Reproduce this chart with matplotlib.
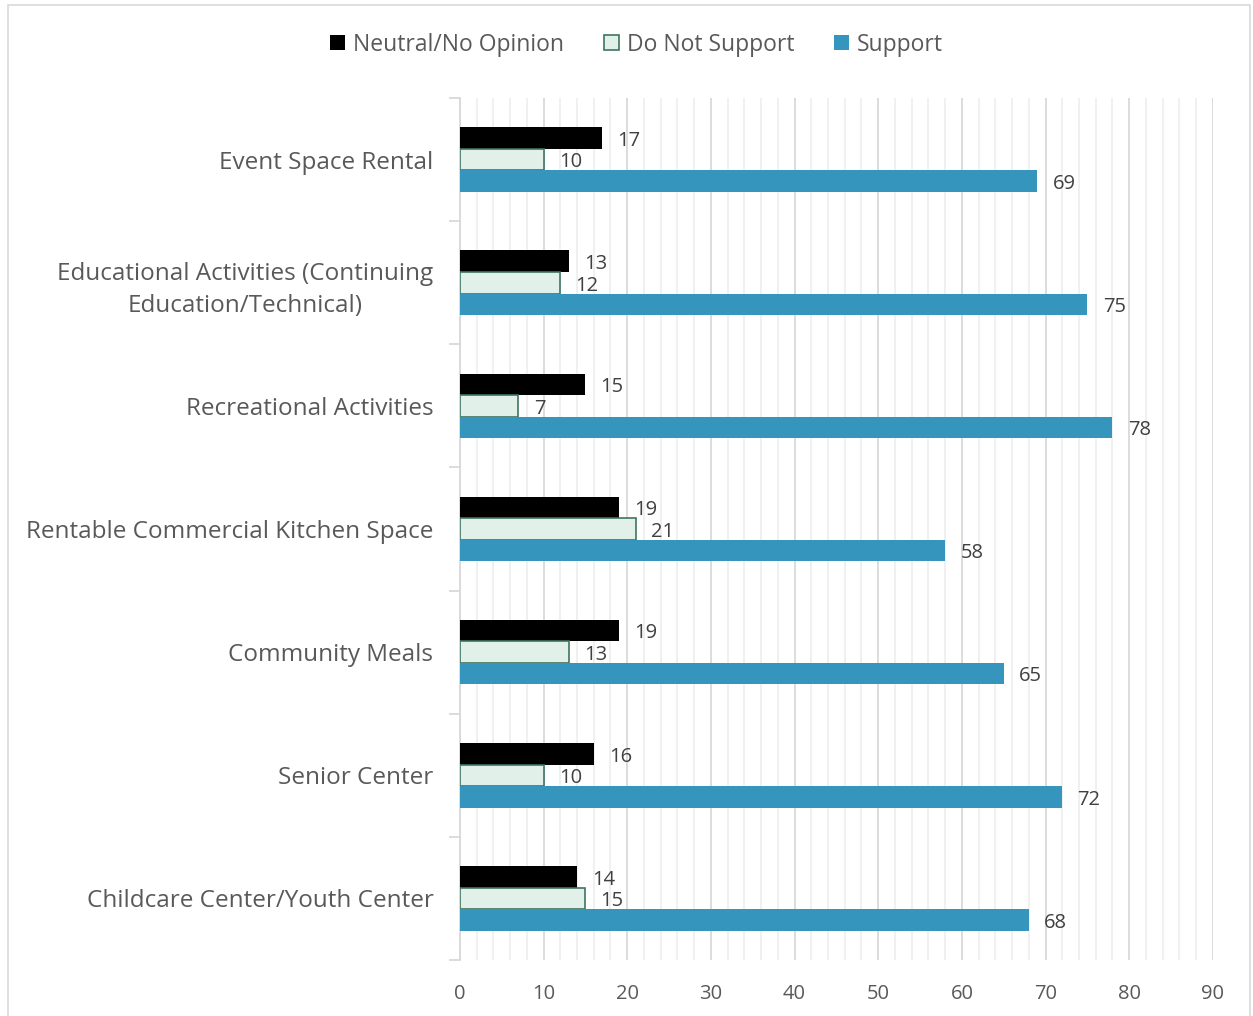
import matplotlib.pyplot as plt
import numpy as np
from matplotlib.patches import Rectangle

categories = ['Event Space Rental',
              'Educational Activities (Continuing\nEducation/Technical)',
              'Recreational Activities',
              'Rentable Commercial Kitchen Space',
              'Community Meals',
              'Senior Center',
              'Childcare Center/Youth Center']
neutral = [17, 13, 15, 19, 19, 16, 14]
not_support = [10, 12, 7, 21, 13, 10, 15]
support = [69, 75, 78, 58, 65, 72, 68]

plt.rcParams['font.family'] = ['Open Sans', 'DejaVu Sans']
txt = '#595959'

fig = plt.figure(figsize=(12.53, 10.16), dpi=100)
ax = fig.add_axes([0.367, 0.0551, 0.601, 0.8484])

y = np.arange(len(categories))
h = 0.175
b1 = ax.barh(y - h, neutral, height=h, color='black', label='Neutral/No Opinion', zorder=3)
b2 = ax.barh(y, not_support, height=h, color='#E2F0EA', edgecolor='#3F7560', linewidth=1.2,
             label='Do Not Support', zorder=3)
b3 = ax.barh(y + h, support, height=h, color='#3595BC', label='Support', zorder=3)

for bars in (b1, b2, b3):
    labels = ax.bar_label(bars, padding=11, fontsize=14.5, color='#404040')
    # nudge down a touch to sit like the original
    for t in labels:
        x0, y0 = t.xyann
        t.xyann = (x0, y0 - 2)

ax.set_xlim(0, 90)
ax.set_ylim(len(categories) - 0.5, -0.5)
ax.set_xticks(np.arange(0, 91, 10))
ax.set_xticks(np.arange(0, 91, 2), minor=True)
ax.grid(axis='x', which='major', color='#D9D9D9', linewidth=1.3, zorder=0)
ax.grid(axis='x', which='minor', color='#EFEFEF', linewidth=1.3, zorder=0)
ax.tick_params(axis='x', which='both', length=0, labelsize=14.5, colors=txt, pad=17)

ax.set_yticks(y)
ax.set_yticklabels(categories, fontsize=17.5, color=txt, multialignment='center',
                   linespacing=1.45)
ax.set_yticks(np.arange(-0.5, len(categories)), minor=True)
ax.tick_params(axis='y', which='major', length=0, pad=19)
ax.tick_params(axis='y', which='minor', length=8, color='#D9D9D9', width=1.3)

for s in ['top', 'right', 'bottom']:
    ax.spines[s].set_visible(False)
ax.spines['left'].set_color('#D9D9D9')
ax.spines['left'].set_linewidth(1.3)

fig.legend(handles=[b1, b2, b3], loc='center', bbox_to_anchor=(0.508, 0.956), ncol=3,
           frameon=False, fontsize=16.5, labelcolor=txt, handlelength=0.65, handleheight=0.65,
           handletextpad=0.35, columnspacing=1.75)

fig.patches.append(Rectangle((0.006, -0.01), 0.992, 1.005, transform=fig.transFigure,
                             fill=False, edgecolor='#D9D9D9', linewidth=1.2))

fig.savefig('out.png', dpi=100)
